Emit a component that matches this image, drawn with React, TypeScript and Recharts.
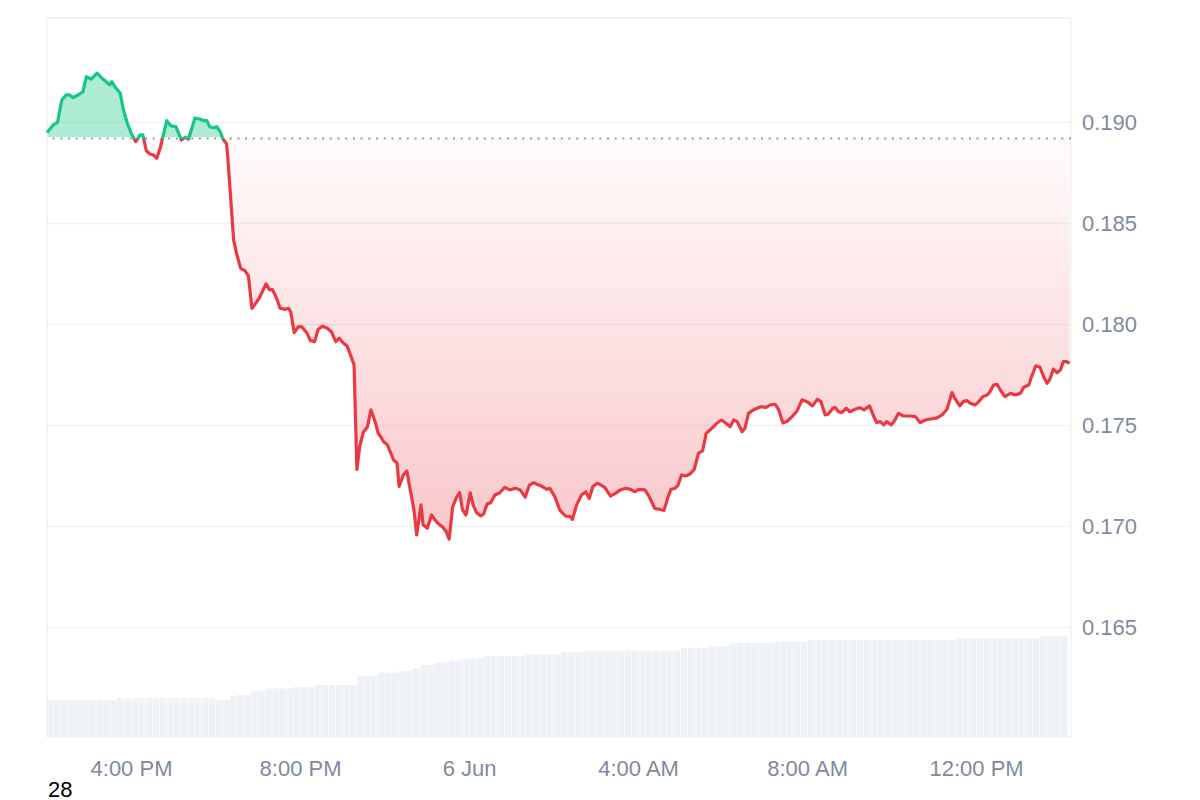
import React from "react";
import { ComposedChart, BarChart, Area, Line, Bar, XAxis, YAxis, CartesianGrid, ReferenceLine } from "recharts";

// minutes since 2:00 PM (5 Jun)
const priceTimes = [
  0, 9, 15, 21, 27, 32, 37, 44, 51, 56, 63, 71, 78, 84, 89, 92, 98, 104, 108, 114,
  119, 126, 132, 136, 141, 146, 151, 156, 161, 170, 176, 183, 191, 196, 201, 210, 217, 222, 227, 231,
  236, 241, 246, 250, 255, 257, 261, 265, 269, 275, 281, 286, 291, 298, 302, 311, 316, 320, 326, 331,
  338, 343, 346, 351, 357, 362, 369, 374, 380, 385, 391, 398, 404, 410, 415, 421, 426, 430, 436, 440,
  444, 449, 455, 460, 466, 470, 478, 483, 488, 492, 497, 500, 506, 511, 515, 521, 525, 531, 534, 540,
  546, 551, 556, 562, 567, 571, 576, 582, 586, 590, 595, 601, 605, 610, 616, 620, 625, 630, 636, 643,
  650, 657, 665, 672, 679, 685, 691, 695, 702, 710, 714, 721, 728, 736, 743, 746, 752, 759, 765, 770,
  775, 781, 785, 792, 800, 807, 814, 821, 828, 835, 840, 849, 855, 863, 870, 876, 882, 886, 892, 896,
  901, 907, 913, 919, 925, 931, 936, 944, 951, 958, 964, 970, 975, 980, 987, 991, 996, 1003, 1013, 1021,
  1027, 1034, 1039, 1045, 1051, 1058, 1065, 1072, 1079, 1087, 1094, 1099, 1105, 1109, 1116, 1119, 1124, 1128, 1135, 1140,
  1147, 1154, 1160, 1168, 1173, 1178, 1183, 1188, 1192, 1199, 1204, 1209, 1216, 1226, 1233, 1240, 1247, 1254, 1263, 1271,
  1278, 1285, 1289, 1296, 1301, 1306, 1311, 1318, 1323, 1329, 1335, 1339, 1344, 1349, 1353, 1360, 1368, 1375, 1382, 1387,
  1394, 1398, 1404, 1410, 1415, 1420, 1424, 1429, 1434, 1439, 1443, 1448, 1452,
];

const prices = [
  0.1895, 0.18988, 0.19001, 0.19111, 0.19136, 0.19136, 0.19123, 0.19136, 0.19152, 0.19227, 0.19214, 0.19244, 0.19219, 0.19202, 0.19186, 0.19202, 0.19169, 0.19145, 0.1907, 0.18996,
  0.1895, 0.18905, 0.18938, 0.18938, 0.1886, 0.18844, 0.18839, 0.18823, 0.18877, 0.19009, 0.18983, 0.18979, 0.18913, 0.18927, 0.18918, 0.19021, 0.19017, 0.19009, 0.19009, 0.18979,
  0.18974, 0.18979, 0.18954, 0.18917, 0.18894, 0.18814, 0.18616, 0.18418, 0.18353, 0.18278, 0.18266, 0.1824, 0.1808, 0.18113, 0.18135, 0.18201, 0.18171, 0.18174, 0.1813, 0.1808,
  0.18075, 0.1808, 0.18063, 0.1796, 0.17989, 0.17988, 0.17958, 0.1792, 0.17915, 0.17975, 0.17991, 0.17981, 0.17963, 0.17915, 0.17932, 0.17907, 0.17894, 0.17858, 0.178, 0.17282,
  0.17395, 0.17465, 0.17494, 0.17577, 0.17517, 0.17465, 0.1742, 0.17406, 0.17365, 0.17329, 0.17314, 0.17198, 0.17255, 0.17275, 0.17197, 0.17082, 0.16958, 0.17107, 0.17008, 0.16991,
  0.17057, 0.17032, 0.17013, 0.16996, 0.16974, 0.16937, 0.17098, 0.17148, 0.17167, 0.17082, 0.17057, 0.17167, 0.17107, 0.17068, 0.17052, 0.17062, 0.17112, 0.17118, 0.17156, 0.17167,
  0.17194, 0.17181, 0.17189, 0.17181, 0.17145, 0.17205, 0.17217, 0.1721, 0.172, 0.17184, 0.17189, 0.17148, 0.17082, 0.17052, 0.17049, 0.17035, 0.17107, 0.17156, 0.17172, 0.17139,
  0.17197, 0.17214, 0.17209, 0.17194, 0.17151, 0.17164, 0.17181, 0.17189, 0.17185, 0.17172, 0.17184, 0.17181, 0.17148, 0.17089, 0.17085, 0.17079, 0.17148, 0.17184, 0.17189, 0.17205,
  0.17255, 0.1725, 0.1726, 0.17283, 0.17362, 0.17375, 0.17461, 0.17486, 0.17511, 0.17527, 0.17511, 0.17494, 0.17527, 0.17519, 0.17469, 0.17486, 0.1756, 0.17577, 0.17593, 0.1759,
  0.17602, 0.17605, 0.17577, 0.17512, 0.17521, 0.17544, 0.17572, 0.17627, 0.17618, 0.17597, 0.1763, 0.17618, 0.17552, 0.17556, 0.17585, 0.1759, 0.17568, 0.17563, 0.17585, 0.17568,
  0.1758, 0.17588, 0.17577, 0.17597, 0.17552, 0.17514, 0.17519, 0.17503, 0.17519, 0.17503, 0.17527, 0.1756, 0.17547, 0.17547, 0.17544, 0.17514, 0.17527, 0.17532, 0.17536, 0.17552,
  0.1758, 0.17663, 0.17635, 0.17597, 0.17618, 0.17623, 0.1761, 0.17602, 0.17618, 0.17643, 0.17651, 0.17667, 0.177, 0.17704, 0.17679, 0.17643, 0.17659, 0.17651, 0.17659, 0.17689,
  0.177, 0.17742, 0.17795, 0.17788, 0.17742, 0.17709, 0.17729, 0.17779, 0.17761, 0.17775, 0.17816, 0.17816, 0.17808,
];

// volume per 10-minute bucket (bucket centre = 5 + 10*i minutes)
const volumeValues = [
  10.3, 10.3, 10.3, 10.3, 10.3, 10.3, 10.3, 10.3, 10.3, 10.3,
  10.8, 10.8, 10.8, 10.8, 10.8, 10.8, 10.8, 10.8, 10.8, 10.8,
  10.8, 10.8, 10.8, 10.8, 10.3, 10.3, 11.3, 11.7, 11.7, 12.9,
  12.9, 13.5, 13.5, 13.5, 13.5, 13.9, 13.9, 13.9, 14.5, 14.5,
  14.5, 14.5, 14.5, 14.5, 17.0, 17.0, 17.0, 17.9, 17.9, 17.9,
  18.4, 18.4, 19.1, 20.0, 20.0, 20.7, 20.7, 21.2, 21.2, 21.9,
  21.9, 21.9, 22.5, 22.5, 22.5, 22.5, 22.5, 22.5, 23.0, 23.0,
  23.0, 23.0, 23.0, 23.6, 23.6, 23.6, 24.1, 24.1, 24.1, 24.1,
  24.1, 24.1, 24.1, 24.1, 24.1, 24.1, 24.1, 24.1, 24.1, 24.1,
  24.7, 24.7, 24.7, 24.7, 25.3, 25.3, 25.3, 26.1, 26.1, 26.1,
  26.1, 26.1, 26.1, 26.4, 26.4, 26.4, 26.4, 26.4, 27.0, 27.0,
  27.0, 27.0, 27.0, 27.0, 27.0, 27.0, 27.0, 27.0, 27.0, 27.0,
  27.0, 27.0, 27.0, 27.0, 27.0, 27.0, 27.0, 27.0, 27.0, 27.5,
  27.5, 27.5, 27.5, 27.5, 27.5, 27.5, 27.5, 27.5, 27.5, 27.5,
  27.5, 28.1, 28.1, 28.1, 28.1,
];
const VOLUME_FIRST_MIN = 5;
const VOLUME_STEP_MIN = 10;

const baselinePrice = 0.1892;
const yTicks = [0.165, 0.17, 0.175, 0.18, 0.185, 0.19];
const xTicks = [120, 360, 600, 840, 1080, 1320];
const xTickLabels = ["4:00 PM", "8:00 PM", "6 Jun", "4:00 AM", "8:00 AM", "12:00 PM"];
const xDomain: [number, number] = [0, 1454];
const yDomain: [number, number] = [0.15958, 0.19517];
const volDomain: [number, number] = [0, 200];
const cornerLabel = "28";

const GREEN = "#16c784";
const RED = "#ea3943";
const GRID = "#eff2f5";
const TEXT = "#808a9d";
const FONT = "'Liberation Sans', Arial, Helvetica, sans-serif";

const priceData = priceTimes.map((t, i) => ({ t, price: prices[i] }));
const volumeData = volumeValues.map((v, i) => ({ t: VOLUME_FIRST_MIN + i * VOLUME_STEP_MIN, vol: v }));

const maxP = Math.max(...prices);
const minP = Math.min(...prices);
const off = (maxP - baselinePrice) / (maxP - minP);
const fillOff = off - 0.004;

const W = 1200;
const H = 800;
const MARGIN = { top: 18, right: 0, left: 47, bottom: 23 };
const Y_AXIS_W = 129;
const X_AXIS_H = 40;

export default function App() {
  return (
    <div style={{ position: "absolute", left: 0, top: 0, width: W, height: H, background: "#fff" }}>
      <div style={{ position: "absolute", left: 0, top: 0 }}>
        <BarChart
          width={W}
          height={H}
          data={volumeData}
          margin={{ top: MARGIN.top, right: Y_AXIS_W, left: MARGIN.left, bottom: MARGIN.bottom + X_AXIS_H }}
        >
          <XAxis dataKey="t" type="number" domain={xDomain} hide />
          <YAxis type="number" domain={volDomain} hide />
          <Bar dataKey="vol" fill="#eef1f5" barSize={6.5} isAnimationActive={false} />
        </BarChart>
      </div>
      <div style={{ position: "absolute", left: 0, top: 0 }}>
        <ComposedChart width={W} height={H} data={priceData} margin={MARGIN}>
          <defs>
            <linearGradient id="strokeSplit" x1="0" y1="0" x2="0" y2="1">
              <stop offset={0} stopColor={GREEN} />
              <stop offset={off} stopColor={GREEN} />
              <stop offset={off} stopColor={RED} />
              <stop offset={1} stopColor={RED} />
            </linearGradient>
            <linearGradient id="fillSplit" x1="0" y1="0" x2="0" y2="1">
              <stop offset={0} stopColor={GREEN} stopOpacity={0.35} />
              <stop offset={fillOff} stopColor={GREEN} stopOpacity={0.35} />
              <stop offset={fillOff} stopColor={RED} stopOpacity={0.02} />
              <stop offset={1} stopColor={RED} stopOpacity={0.28} />
            </linearGradient>
          </defs>
          <CartesianGrid vertical={false} stroke={GRID} strokeWidth={1.5} />
          <ReferenceLine y={yDomain[1]} stroke={GRID} strokeWidth={1.5} />
          <ReferenceLine x={xDomain[0]} stroke={GRID} strokeWidth={1.5} />
          <ReferenceLine x={xDomain[1]} stroke={GRID} strokeWidth={1.5} />
          <XAxis
            dataKey="t"
            type="number"
            domain={xDomain}
            ticks={xTicks}
            tickFormatter={(v: number) => xTickLabels[xTicks.indexOf(v)] ?? ""}
            axisLine={false}
            tickLine={false}
            tickSize={0}
            tickMargin={23}
            height={X_AXIS_H}
            interval={0}
            tick={{ fill: TEXT, fontSize: 22, fontFamily: FONT }}
          />
          <YAxis
            orientation="right"
            type="number"
            domain={yDomain}
            ticks={yTicks}
            tickFormatter={(v: number) => v.toFixed(3)}
            axisLine={false}
            tickLine={false}
            tickSize={0}
            tickMargin={11}
            width={Y_AXIS_W}
            interval={0}
            tick={{ fill: TEXT, fontSize: 22, fontFamily: FONT }}
          />
          <Area
            type="linear"
            dataKey="price"
            baseValue={baselinePrice}
            stroke="none"
            fill="url(#fillSplit)"
            fillOpacity={1}
            dot={false}
            activeDot={false}
            isAnimationActive={false}
          />
          <ReferenceLine y={baselinePrice} stroke="#969ca8" strokeWidth={2} strokeDasharray="2 5.7" />
          <Line
            type="linear"
            dataKey="price"
            stroke="url(#strokeSplit)"
            strokeWidth={3.2}
            strokeLinejoin="round"
            dot={false}
            activeDot={false}
            isAnimationActive={false}
          />
        </ComposedChart>
      </div>
      <div
        style={{
          position: "absolute",
          left: 48,
          top: 777,
          fontFamily: FONT,
          fontSize: 22,
          color: "#000",
          lineHeight: "normal",
        }}
      >
        {cornerLabel}
      </div>
    </div>
  );
}
